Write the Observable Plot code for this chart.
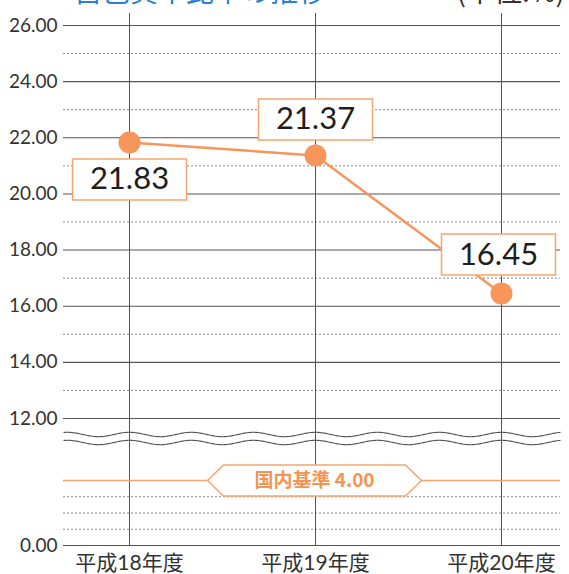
<!DOCTYPE html>
<html>
<head>
<meta charset="utf-8">
<script src="https://cdn.jsdelivr.net/npm/d3@7"></script>
<script src="https://cdn.jsdelivr.net/npm/@observablehq/plot@0.6"></script>
<style>
  html, body { margin: 0; padding: 0; background: #fff; overflow: hidden; }
  #wrap { position: relative; width: 569px; height: 574px; }
  #title { position: absolute; left: 74px; top: -24px; font-family: "Noto Sans CJK JP", sans-serif; font-size: 28px; line-height: 1; color: #2b7fd0; white-space: nowrap; z-index: 2; }
  #unit { position: absolute; right: 4px; top: -24px; font-family: "Noto Sans CJK JP", sans-serif; font-size: 28px; line-height: 1; color: #333; white-space: nowrap; z-index: 2; }
  #chart { position: absolute; left: 0; top: 0; }
  #chart svg [aria-label^="x-axis"] text { font-size: 21px; }
</style>
</head>
<body>
<div id="wrap">
  <div id="title">自己資本比率の推移</div>
  <div id="unit">(単位:%)</div>
  <div id="chart"></div>
</div>
<script>
const categories = ["平成18年度", "平成19年度", "平成20年度"];
const values = [21.83, 21.37, 16.45];
const majorTicks = [0, 12, 14, 16, 18, 20, 22, 24, 26];
const minorTicks = [1, 2, 3, 13, 15, 17, 19, 21, 23, 25];
const standardValue = 4.00;
const standardLabel = "国内基準";

const data = categories.map((c, i) => ({year: c, value: values[i]}));
const fmt = d3.format(".2f");

const orange = "#f6965a";
const boxOrange = "#f6a46e";

// symbols (pure shape helpers)
const labelBox = {draw(ctx) { const w = 57, h = 20.5; ctx.moveTo(-w, -h); ctx.lineTo(w, -h); ctx.lineTo(w, h); ctx.lineTo(-w, h); ctx.closePath(); }};
const hexBadge = {draw(ctx) { const w = 107, c = 91, h = 15.5; ctx.moveTo(-w, 0); ctx.lineTo(-c, -h); ctx.lineTo(c, -h); ctx.lineTo(w, 0); ctx.lineTo(c, h); ctx.lineTo(-c, h); ctx.closePath(); }};
const wave = {draw(ctx) {
  const half = 248.5, period = 62, phase = 182.5, amp = 2.2;
  for (let t = -half; t <= half; t += 1) {
    const yy = -amp * Math.cos(2 * Math.PI * (t + phase) / period);
    if (t === -half) ctx.moveTo(t, yy); else ctx.lineTo(t, yy);
  }
}};

const chart = Plot.plot({
  width: 569,
  height: 574,
  marginTop: 13,
  marginBottom: 29,
  marginLeft: 63,
  marginRight: 9,
  style: {fontFamily: "Lato, 'Noto Sans CJK JP', sans-serif", fontSize: "19px", color: "#333", background: "white"},
  x: {type: "point", domain: categories, range: [129, 501], padding: 0, tickSize: 0, tickPadding: 10, label: null},
  y: {type: "linear", domain: [0, 4, 12, 26], range: [545, 480, 418, 25], ticks: majorTicks, tickFormat: fmt, tickSize: 0, tickPadding: 6, label: null},
  marks: [
    Plot.ruleY(minorTicks, {stroke: "#8a8a8a", strokeWidth: 1, strokeDasharray: "2,2"}),
    Plot.ruleY(majorTicks, {stroke: "#555", strokeWidth: 1.1}),
    Plot.ruleX(categories, {stroke: "#555", strokeWidth: 1}),
    Plot.dot([12], {y: d => d, dy: 16, symbol: wave, fill: "none", stroke: "#555", strokeWidth: 1.1}),
    Plot.dot([12], {y: d => d, dy: 24, symbol: wave, fill: "none", stroke: "#555", strokeWidth: 1.1}),
    Plot.ruleY([standardValue], {stroke: boxOrange, strokeWidth: 1.5}),
    Plot.dot([standardValue], {x: () => categories[1], y: d => d, dx: -1, symbol: hexBadge, fill: "white", stroke: boxOrange, strokeWidth: 1.5}),
    Plot.text([standardValue], {x: () => categories[1], y: d => d, dx: -1, text: d => `${standardLabel} ${fmt(d)}`, fill: "#f39452", fontWeight: "bold", fontSize: 19, fontFamily: "'Noto Sans CJK JP', sans-serif"}),
    Plot.line(data, {x: "year", y: "value", stroke: orange, strokeWidth: 2.5}),
    Plot.dot(data, {x: "year", y: "value", r: 11, fill: orange}),
    Plot.dot(data.slice(0, 1), {x: "year", y: "value", dy: 37, symbol: labelBox, fill: "white", stroke: boxOrange, strokeWidth: 1.5}),
    Plot.dot(data.slice(1, 2), {x: "year", y: "value", dy: -36, symbol: labelBox, fill: "white", stroke: boxOrange, strokeWidth: 1.5}),
    Plot.dot(data.slice(2, 3), {x: "year", y: "value", dx: -3, dy: -39, symbol: labelBox, fill: "white", stroke: boxOrange, strokeWidth: 1.5}),
    Plot.text(data.slice(0, 1), {x: "year", y: "value", dy: 37, text: d => fmt(d.value), fontSize: 31, fill: "#1e1e1e"}),
    Plot.text(data.slice(1, 2), {x: "year", y: "value", dy: -36, text: d => fmt(d.value), fontSize: 31, fill: "#1e1e1e"}),
    Plot.text(data.slice(2, 3), {x: "year", y: "value", dx: -3, dy: -39, text: d => fmt(d.value), fontSize: 31, fill: "#1e1e1e"})
  ]
});
document.getElementById("chart").appendChild(chart);
</script>
</body>
</html>
